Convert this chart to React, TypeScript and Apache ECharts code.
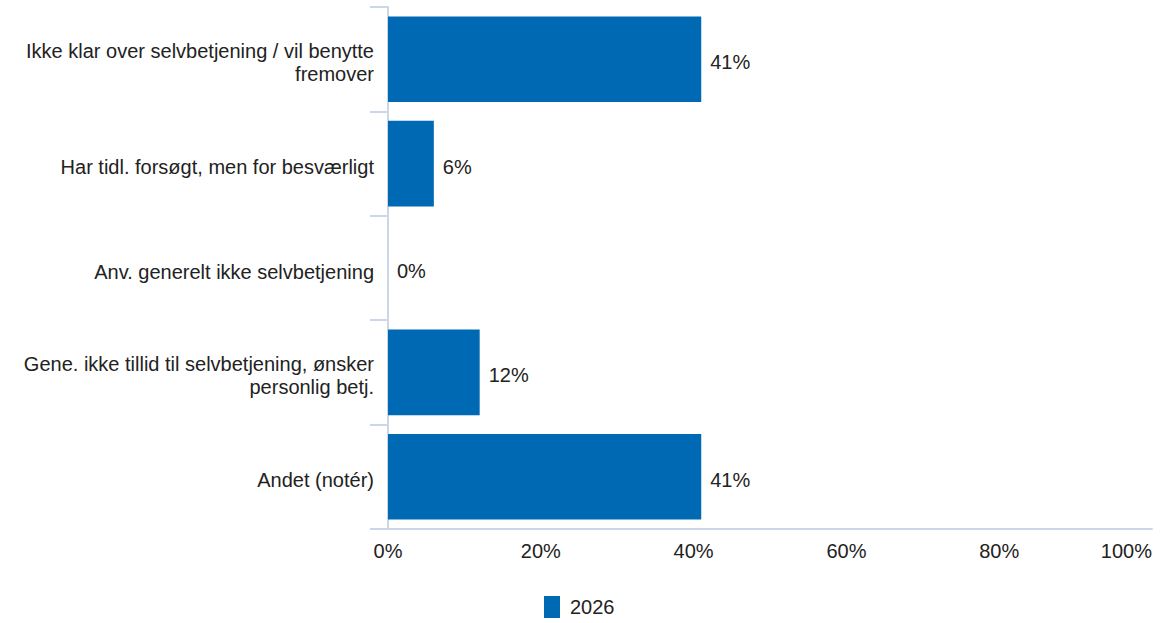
import React, { useEffect, useRef } from "react";
import * as echarts from "echarts";

const categories = [
  "Ikke klar over selvbetjening / vil benytte fremover",
  "Har tidl. forsøgt, men for besværligt",
  "Anv. generelt ikke selvbetjening",
  "Gene. ikke tillid til selvbetjening, ønsker personlig betj.",
  "Andet (notér)",
];
const values2026 = [41, 6, 0, 12, 41];
const seriesName = "2026";

function wrapLines(text: string, maxChars: number): string[] {
  const words = text.split(" ");
  const lines: string[] = [];
  let cur = "";
  for (const w of words) {
    const next = cur ? cur + " " + w : w;
    if (next.length > maxChars && cur) {
      lines.push(cur);
      cur = w;
    } else {
      cur = next;
    }
  }
  if (cur) lines.push(cur);
  return lines;
}

export default function App() {
  const ref = useRef<HTMLDivElement>(null);
  useEffect(() => {
    if (!ref.current) return;
    const chart = echarts.init(ref.current, undefined, { renderer: "svg" });
    const axisColor = "#ccd6eb";
    const textColor = "#222222";
    const font = "'Liberation Sans', Arial, sans-serif";
    const labelStyle = { color: textColor, fontSize: 20, fontFamily: font, lineHeight: 23 };
    chart.setOption({
      animation: false,
      textStyle: { fontFamily: font },
      grid: { left: 388, right: 24, top: 7, bottom: 94, containLabel: false },
      xAxis: {
        type: "value",
        min: 0,
        max: 100,
        interval: 20,
        axisLine: { show: true, lineStyle: { color: axisColor, width: 2 } },
        axisTick: { show: false },
        splitLine: { show: false },
        axisLabel: {
          formatter: "{value}%",
          color: textColor,
          fontSize: 20,
          fontFamily: font,
          margin: 12,
          alignMaxLabel: "right",
        },
      },
      yAxis: {
        type: "category",
        data: categories,
        inverse: true,
        axisLine: { show: true, lineStyle: { color: axisColor, width: 2 } },
        axisTick: { show: true, length: 18, lineStyle: { color: axisColor, width: 2 } },
        axisLabel: {
          ...labelStyle,
          margin: 14,
          align: "right",
          formatter: (v: string) =>
            "{s| }\n" + wrapLines(v, 43).map((l) => "{r|" + l + "}").join("\n"),
          rich: {
            s: { fontSize: 1, lineHeight: 7, color: "transparent" },
            r: { ...labelStyle },
          },
        },
      },
      legend: {
        show: true,
        left: 539,
        bottom: 0,
        itemWidth: 16,
        itemHeight: 22,
        itemGap: 10,
        icon: "rect",
        textStyle: { color: textColor, fontSize: 20, fontFamily: font, padding: [0, 0, 0, 5] },
        data: [seriesName],
      },
      series: [
        {
          name: seriesName,
          type: "bar",
          data: values2026,
          barCategoryGap: "18%",
          itemStyle: { color: "#0069b4" },
          label: {
            show: true,
            position: "right",
            distance: 9,
            offset: [0, 3],
            formatter: "{c}%",
            color: textColor,
            fontSize: 20,
            fontFamily: font,
          },
        },
      ],
    });
    return () => chart.dispose();
  }, []);
  return (
    <div
      ref={ref}
      style={{ position: "fixed", left: 0, top: 0, width: 1176, height: 623, background: "#ffffff" }}
    />
  );
}
